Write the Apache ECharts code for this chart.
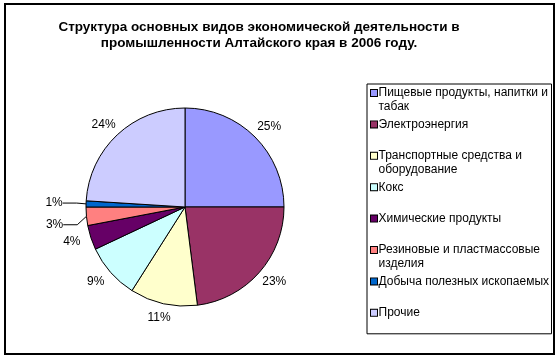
<!DOCTYPE html>
<html><head><meta charset="utf-8">
<script src="https://cdn.jsdelivr.net/npm/echarts@6/dist/echarts.min.js"></script>
<style>html,body{margin:0;padding:0;background:#fff}#c{width:560px;height:359px}</style>
</head><body><div id="c"></div>
<script>
// ---- data ----
const titleLines = ['Структура основных видов экономической деятельности в', 'промышленности Алтайского края в 2006 году.'];
const categories = ['Пищевые продукты, напитки и табак', 'Электроэнергия', 'Транспортные средства и оборудование', 'Кокс', 'Химические продукты', 'Резиновые и пластмассовые изделия', 'Добыча полезных ископаемых', 'Прочие'];
const shares = [25, 23, 11, 9, 4, 3, 1, 24];
const colors = ['#9999FF', '#993366', '#FFFFCC', '#CCFFFF', '#660066', '#FF8080', '#0066CC', '#CCCCFF'];

// ---- layout / style ----
const FONT = 'Arial, "Liberation Sans", sans-serif';
const CX = 185, CY = 207, R = 99;
const LABEL_RX = 119, LABEL_RY = 113;
const leader = {5: {extra: 12, dy: 6}, 6: {extra: 12, dy: 0}};

const total = shares.reduce((a, b) => a + b, 0);
const mids = []; let acc = 0;
shares.forEach(v => { mids.push((acc + v / 2) / total * 2 * Math.PI); acc += v; });

function wrap(name, max) {
  const words = name.split(' '); const lines = []; let cur = '';
  words.forEach(w => { const t = cur ? cur + ' ' + w : w; if (t.length > max && cur) { lines.push(cur); cur = w; } else cur = t; });
  lines.push(cur); return lines;
}

const rich = {
  t: {width: 167, fontSize: 12, lineHeight: 14, fontFamily: FONT, color: '#000', align: 'left'},
  g: {width: 1.5, lineHeight: 14, align: 'left'},
  s: {width: 7.5, lineHeight: 14, align: 'left'}
};
colors.forEach((c, i) => { rich['m' + i] = {width: 6, height: 6, backgroundColor: c, borderColor: '#000', borderWidth: 1, lineHeight: 14, align: 'left'}; });

const chart = echarts.init(document.getElementById('c'), null, {renderer: 'canvas'});
chart.setOption({
  animation: false,
  backgroundColor: '#fff',
  title: {
    text: titleLines.join('\n'), left: 259, top: 19, textAlign: 'center', padding: 0,
    textStyle: {fontFamily: FONT, fontSize: 13.5, fontWeight: 'bold', lineHeight: 16, color: '#000'}
  },
  graphic: [{type: 'rect', shape: {x: 5, y: 4, width: 549, height: 350}, style: {fill: null, stroke: '#000', lineWidth: 2}, silent: true}],
  legend: {
    orient: 'vertical', left: 367, top: 84, align: 'right',
    itemWidth: 0, itemHeight: 0, itemGap: 3.4, itemStyle: {opacity: 0},
    padding: [2, 0, 0, 3], backgroundColor: '#fff', borderColor: '#000', borderWidth: 1,
    selectedMode: false,
    data: categories,
    textStyle: {fontFamily: FONT, fontSize: 12, color: '#000', lineHeight: 14, rich: rich},
    formatter: name => {
      const i = categories.indexOf(name);
      const ls = wrap(name, 27);
      return '{m' + i + '|}{g|}{t|' + ls[0] + '}\n{s|}{t|' + (ls[1] || ' ') + '}';
    }
  },
  series: [{
    type: 'pie', center: [CX, CY], radius: R, startAngle: 90, clockwise: true,
    avoidLabelOverlap: false, silent: true,
    itemStyle: {borderColor: '#000', borderWidth: 1},
    data: categories.map((n, i) => ({name: n, value: shares[i], itemStyle: {color: colors[i]}, labelLine: {show: !!leader[i]}})),
    label: {show: true, position: 'outside', formatter: '{c}%', fontFamily: FONT, fontSize: 12, color: '#000'},
    labelLine: {show: false, length: 10, length2: 14, lineStyle: {color: '#000', width: 1}},
    labelLayout: p => {
      const i = p.dataIndex, a = mids[i], ex = leader[i];
      const e = ex ? ex.extra : 0;
      return {x: CX + Math.sin(a) * (LABEL_RX + e), y: CY - Math.cos(a) * (LABEL_RY + e) + (ex ? ex.dy : 0), align: 'center', verticalAlign: 'middle'};
    }
  }]
});
</script></body></html>
